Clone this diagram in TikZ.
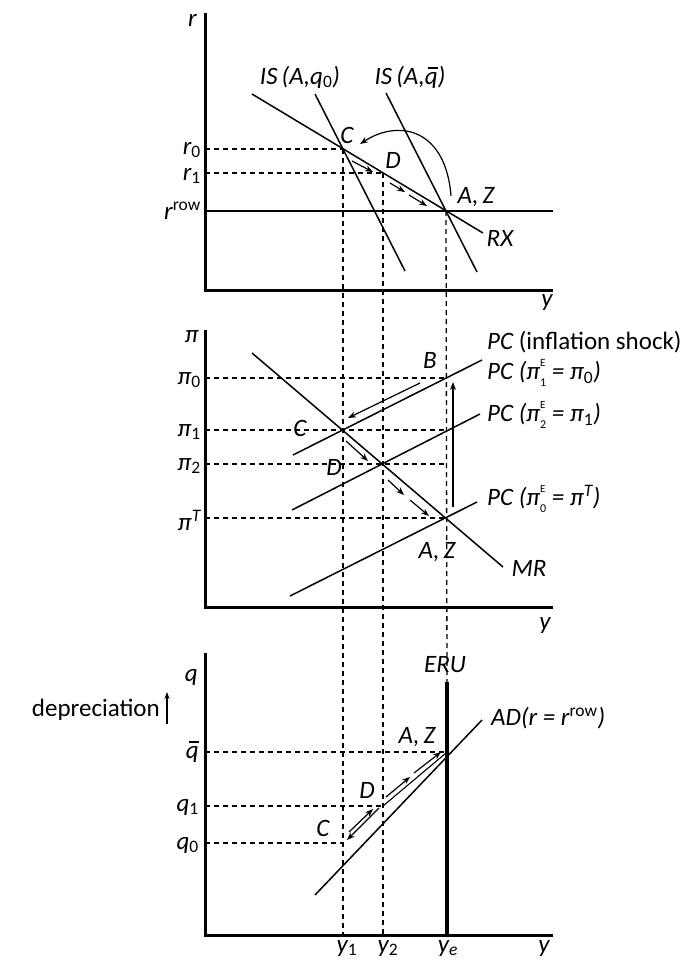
\documentclass[tikz,border=0pt]{standalone}
\usepackage{fontspec}
\setmainfont{Carlito}
\usetikzlibrary{arrows.meta}
\newcommand{\qb}{\leavevmode\rlap{\hspace{0.12em}\raisebox{0.62em}{\rule{0.40em}{0.06em}}}q}
\newcommand{\pe}[1]{π\rlap{\raisebox{0.52em}{\fontsize{11}{11}\selectfont\upshape E}}\raisebox{-0.28em}{\fontsize{12}{12}\selectfont\upshape #1}}
\begin{document}
\begin{tikzpicture}[x=1pt,y=-1pt,
  axis/.style={line width=3pt},
  curve/.style={line width=1.5pt},
  guide/.style={line width=1.3pt, dash pattern=on 5pt off 4pt},
  arr/.style={line width=1.2pt,-{Stealth[length=8pt,width=6pt]}},
  lbl/.style={font=\fontsize{25}{29}\selectfont\itshape, inner sep=0pt},
  ulbl/.style={font=\fontsize{25}{29}\selectfont, inner sep=0pt}]
\useasboundingbox (0,0) rectangle (687,962);
% ---------- coordinates ----------
% top panel
\coordinate (T1) at (205,13); \coordinate (O1) at (205,290); \coordinate (R1) at (553,290);
\coordinate (Rr0) at (205,211); \coordinate (Rr1) at (553,211);
\coordinate (C1) at (343,149); \coordinate (D1) at (383,173); \coordinate (A1) at (446,211);
\coordinate (RXa) at (252,94); \coordinate (RXb) at (483,233);
\coordinate (ISa1) at (315,94); \coordinate (ISa2) at (405,271);
\coordinate (ISb1) at (386,93); \coordinate (ISb2) at (477,272);
\coordinate (r0L) at (205,149); \coordinate (r1L) at (205,173);
% middle panel
\coordinate (T2) at (205,330); \coordinate (O2) at (205,607); \coordinate (R2) at (553,607);
\coordinate (C2) at (343,430); \coordinate (D2) at (383,464); \coordinate (A2) at (446,518); \coordinate (B2) at (446,378);
\coordinate (MRa) at (252,353); \coordinate (MRb) at (503,567);
\coordinate (PSa) at (293,455); \coordinate (PSb) at (482,360);
\coordinate (P2a) at (292,510); \coordinate (P2b) at (480,414);
\coordinate (P0a) at (290,596); \coordinate (P0b) at (477,502);
\coordinate (p0L) at (205,378); \coordinate (p1L) at (205,430); \coordinate (p2L) at (205,464); \coordinate (pTL) at (205,518);
\coordinate (p1R) at (446,430); \coordinate (p2R) at (446,464);
% bottom panel
\coordinate (T3) at (205,653); \coordinate (O3) at (205,935); \coordinate (R3) at (553,935);
\coordinate (ERUt) at (447,682); \coordinate (ERUb) at (447,935);
\coordinate (ADa) at (315,895); \coordinate (ADb) at (482,720);
\coordinate (C3) at (343,843); \coordinate (D3) at (383,806); \coordinate (A3) at (446,753);
\coordinate (qbL) at (205,752); \coordinate (qbR) at (446,752);
\coordinate (q1L) at (205,806); \coordinate (q0L) at (205,843);
\coordinate (y1B) at (343,935); \coordinate (y2B) at (383,935);
% ---------- guides ----------
\draw[guide] (r0L) -- (C1);
\draw[guide] (r1L) -- (D1);
\draw[guide] (C1) -- (y1B);
\draw[guide] (D1) -- (y2B);
\draw[guide] (A1) -- (ERUt);
\draw[guide] (p0L) -- (B2);
\draw[guide] (p1L) -- (p1R);
\draw[guide] (p2L) -- (p2R);
\draw[guide] (pTL) -- (A2);
\draw[guide] (qbL) -- (qbR);
\draw[guide] (q1L) -- (D3);
\draw[guide] (q0L) -- (C3);
% ---------- axes ----------
\draw[axis] (T1) -- (O1) -- (R1);
\draw[axis] (T2) -- (O2) -- (R2);
\draw[axis] (T3) -- (O3) -- (R3);
\draw[line width=2.2pt] (Rr0) -- (Rr1);
\draw[line width=4pt] (ERUt) -- (ERUb);
% ---------- curves ----------
\draw[curve] (RXa) -- (RXb);
\draw[curve] (ISa1) -- (ISa2);
\draw[curve] (ISb1) -- (ISb2);
\draw[curve] (MRa) -- (MRb);
\draw[curve] (PSa) -- (PSb);
\draw[curve] (P2a) -- (P2b);
\draw[curve] (P0a) -- (P0b);
\draw[curve] (ADa) -- (ADb);
\draw[line width=1.1pt] (D3) -- (A3);
% ---------- arrows ----------
\coordinate (arcS) at (451,196); \coordinate (arcE) at (360,144);
\draw[arr] (arcS) .. controls (446,130) and (400,118) .. (arcE);
\coordinate (ta1) at (352,161); \coordinate (ta2) at (373,172);
\coordinate (ta3) at (390,183); \coordinate (ta4) at (405,192);
\coordinate (ta5) at (409,195); \coordinate (ta6) at (427,206);
\draw[arr] (ta1) -- (ta2); \draw[arr] (ta3) -- (ta4); \draw[arr] (ta5) -- (ta6);
\coordinate (mb1) at (420,383); \coordinate (mb2) at (348,418);
\draw[arr] (mb1) -- (mb2);
\coordinate (mv1) at (453,507); \coordinate (mv2) at (453,382);
\draw[arr] (mv1) -- (mv2);
\coordinate (mm1) at (346,441); \coordinate (mm2) at (368,461);
\coordinate (mm3) at (388,480); \coordinate (mm4) at (404,495);
\coordinate (mm5) at (410,500); \coordinate (mm6) at (429,516);
\draw[arr] (mm1) -- (mm2); \draw[arr] (mm3) -- (mm4); \draw[arr] (mm5) -- (mm6);
\coordinate (bc1) at (379,808); \coordinate (bc2) at (347,840);
\coordinate (bc3) at (349,832); \coordinate (bc4) at (373,809);
\draw[arr] (bc1) -- (bc2); \draw[arr] (bc3) -- (bc4);
\coordinate (bd1) at (386,797); \coordinate (bd2) at (410,777);
\coordinate (bd3) at (414,773); \coordinate (bd4) at (441,752);
\draw[arr] (bd1) -- (bd2); \draw[arr] (bd3) -- (bd4);
\coordinate (dep1) at (167,724); \coordinate (dep2) at (167,692);
\draw[line width=1.3pt,-{Stealth[length=7pt,width=5pt]}] (dep1) -- (dep2);
% ---------- labels: top ----------
\node[lbl,anchor=east] (lr) at (197,20) {r};
\node[lbl,anchor=east] (lr0) at (201,150) {r\textsubscript{\upshape 0}};
\node[lbl,anchor=east] (lr1) at (201,176) {r\textsubscript{\upshape 1}};
\node[lbl,anchor=east] (lrr) at (201,211) {r\textsuperscript{\upshape row}};
\node[lbl] (lis1) at (300,77) {IS\,(A,q\textsubscript{\upshape 0})};
\node[lbl] (lis2) at (410,77) {IS\,(A,\qb)};
\node[lbl] (lc1) at (347,135) {C};
\node[lbl] (ld1) at (393,160) {D};
\node[lbl] (la1) at (476,197) {A,\,Z};
\node[lbl] (lrx) at (500,238) {RX};
\node[lbl] (ly1) at (547,303) {y};
% ---------- labels: middle ----------
\node[lbl,anchor=east] (lpi) at (199,337) {π};
\node[lbl,anchor=east] (lp0) at (201,380) {π\textsubscript{\upshape 0}};
\node[lbl,anchor=east] (lp1) at (201,432) {π\textsubscript{\upshape 1}};
\node[lbl,anchor=east] (lp2) at (201,466) {π\textsubscript{\upshape 2}};
\node[lbl,anchor=east] (lpT) at (201,520) {π\textsuperscript{T}};
\node[lbl] (lc2) at (300,428) {C};
\node[lbl] (ld2) at (334,467) {D};
\node[lbl] (lb2) at (430,360) {B};
\node[lbl] (la2) at (437,552) {A,\,Z};
\node[lbl] (lmr) at (529,568) {MR};
\node[lbl,anchor=west] (lps) at (487,342) {PC \upshape(inflation shock)};
\node[lbl,anchor=west] (lp1c) at (487,373) {PC (\pe{1} = π\textsubscript{\upshape 0})};
\node[lbl,anchor=west] (lp2c) at (487,415) {PC (\pe{2} = π\textsubscript{\upshape 1})};
\node[lbl,anchor=west] (lp0c) at (487,499) {PC (\pe{0} = π\textsuperscript{T})};
\node[lbl] (ly2) at (545,626) {y};
% ---------- labels: bottom ----------
\node[lbl,anchor=east] (lq) at (198,677) {q};
\node[ulbl,anchor=east] (ldep) at (160,710) {depreciation};
\node[lbl] (leru) at (445,665) {ERU};
\node[lbl,anchor=west] (lad) at (491,718) {AD(r = r\textsuperscript{\upshape row})};
\node[lbl,anchor=east] (lqb) at (199,752) {\qb};
\node[lbl,anchor=east] (lq1) at (199,807) {q\textsubscript{\upshape 1}};
\node[lbl,anchor=east] (lq0) at (199,845) {q\textsubscript{\upshape 0}};
\node[lbl] (la3) at (417,737) {A,\,Z};
\node[lbl] (ld3) at (367,790) {D};
\node[lbl] (lc3) at (323,828) {C};
\node[lbl,anchor=base] (lyy1) at (347,952) {y\textsubscript{\upshape 1}};
\node[lbl,anchor=base] (lyy2) at (388,952) {y\textsubscript{\upshape 2}};
\node[lbl,anchor=base] (lyye) at (448,952) {y\textsubscript{e}};
\node[lbl,anchor=base] (lyy) at (544,952) {y};
\end{tikzpicture}
\end{document}
